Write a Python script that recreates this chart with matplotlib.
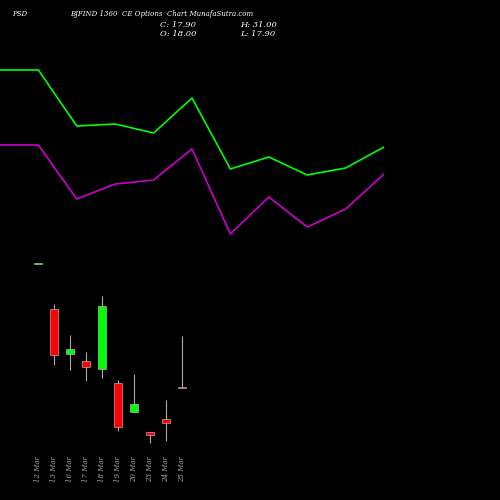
import numpy as np
import matplotlib.pyplot as plt
from matplotlib.patches import Rectangle

dates = ['12 Mar', '13 Mar', '16 Mar', '17 Mar', '18 Mar', '19 Mar',
         '20 Mar', '23 Mar', '24 Mar', '25 Mar']
opens = [49.2, 37.8, 26.5, 24.7, 22.7, 19.2, 11.9, 6.8, 10.1, 18.0]
highs = [49.2, 39.1, 31.3, 27.0, 41.1, 19.9, 21.4, 6.8, 14.9, 31.0]
lows = [49.2, 23.7, 22.4, 19.7, 20.4, 7.1, 11.9, 4.0, 4.5, 17.9]
closes = [49.2, 26.2, 27.7, 23.2, 38.6, 8.1, 13.9, 6.1, 9.1, 17.9]

# upper indicator lines (arbitrary scale)
upper_green = [180, 180, 124, 126, 117, 152, 81, 93, 75, 82, 103]
upper_magenta = [105, 105, 51, 66, 70, 101, 16, 53, 23, 41, 76]

fig = plt.figure(figsize=(5, 5), dpi=100, facecolor='black')

# lines axes
ax2 = fig.add_axes([0, 0.5, 0.768, 0.5])
ax2.set_facecolor('none')
xs = np.arange(len(upper_green))
ax2.plot(xs, upper_green, color='#00ff00', lw=1.2)
ax2.plot(xs, upper_magenta, color='#cc00cc', lw=1.2)
ax2.set_xlim(0, 10)
ax2.set_ylim(0, 250)
ax2.axis('off')

# candles axes
ax = fig.add_axes([0, 0, 1, 1])
ax.set_facecolor('none')
ax.set_xlim(-2.375, 28.875)
ax.set_ylim(-10.3, 115.6)
ax.axis('off')
w = 0.5
for i in range(len(dates)):
    o, h, l, c = opens[i], highs[i], lows[i], closes[i]
    col = '#00ff00' if c >= o else '#ff0000'
    ax.vlines(i, l, h, color='#aaaaaa', lw=0.8, zorder=1)
    bh = max(abs(c - o), 0.25)
    ax.add_patch(Rectangle((i - w / 2, min(o, c)), w, bh, facecolor=col,
                           edgecolor='#cccccc', lw=0.4, zorder=2))
    ax.text(i, 0.8, dates[i], rotation=90, ha='center', va='top',
            color='#aaaaaa', fontsize=5, family='serif', style='italic')

fig.text(0.024, 0.972, 'PSD', color='white', fontsize=5, family='serif',
         style='italic', va='center')
fig.text(0.14, 0.972, 'BJFIND 1360  CE Options  Chart MunafaSutra.com',
         color='white', fontsize=5, family='serif', style='italic', va='center')
fig.text(0.32, 0.95, 'C: 17.90', color='white', fontsize=6, family='serif',
         style='italic', va='center')
fig.text(0.48, 0.95, 'H: 31.00', color='white', fontsize=6, family='serif',
         style='italic', va='center')
fig.text(0.32, 0.933, 'O: 18.00', color='white', fontsize=6, family='serif',
         style='italic', va='center')
fig.text(0.48, 0.933, 'L: 17.90', color='white', fontsize=6, family='serif',
         style='italic', va='center')

fig.savefig('out.png', facecolor='black')
